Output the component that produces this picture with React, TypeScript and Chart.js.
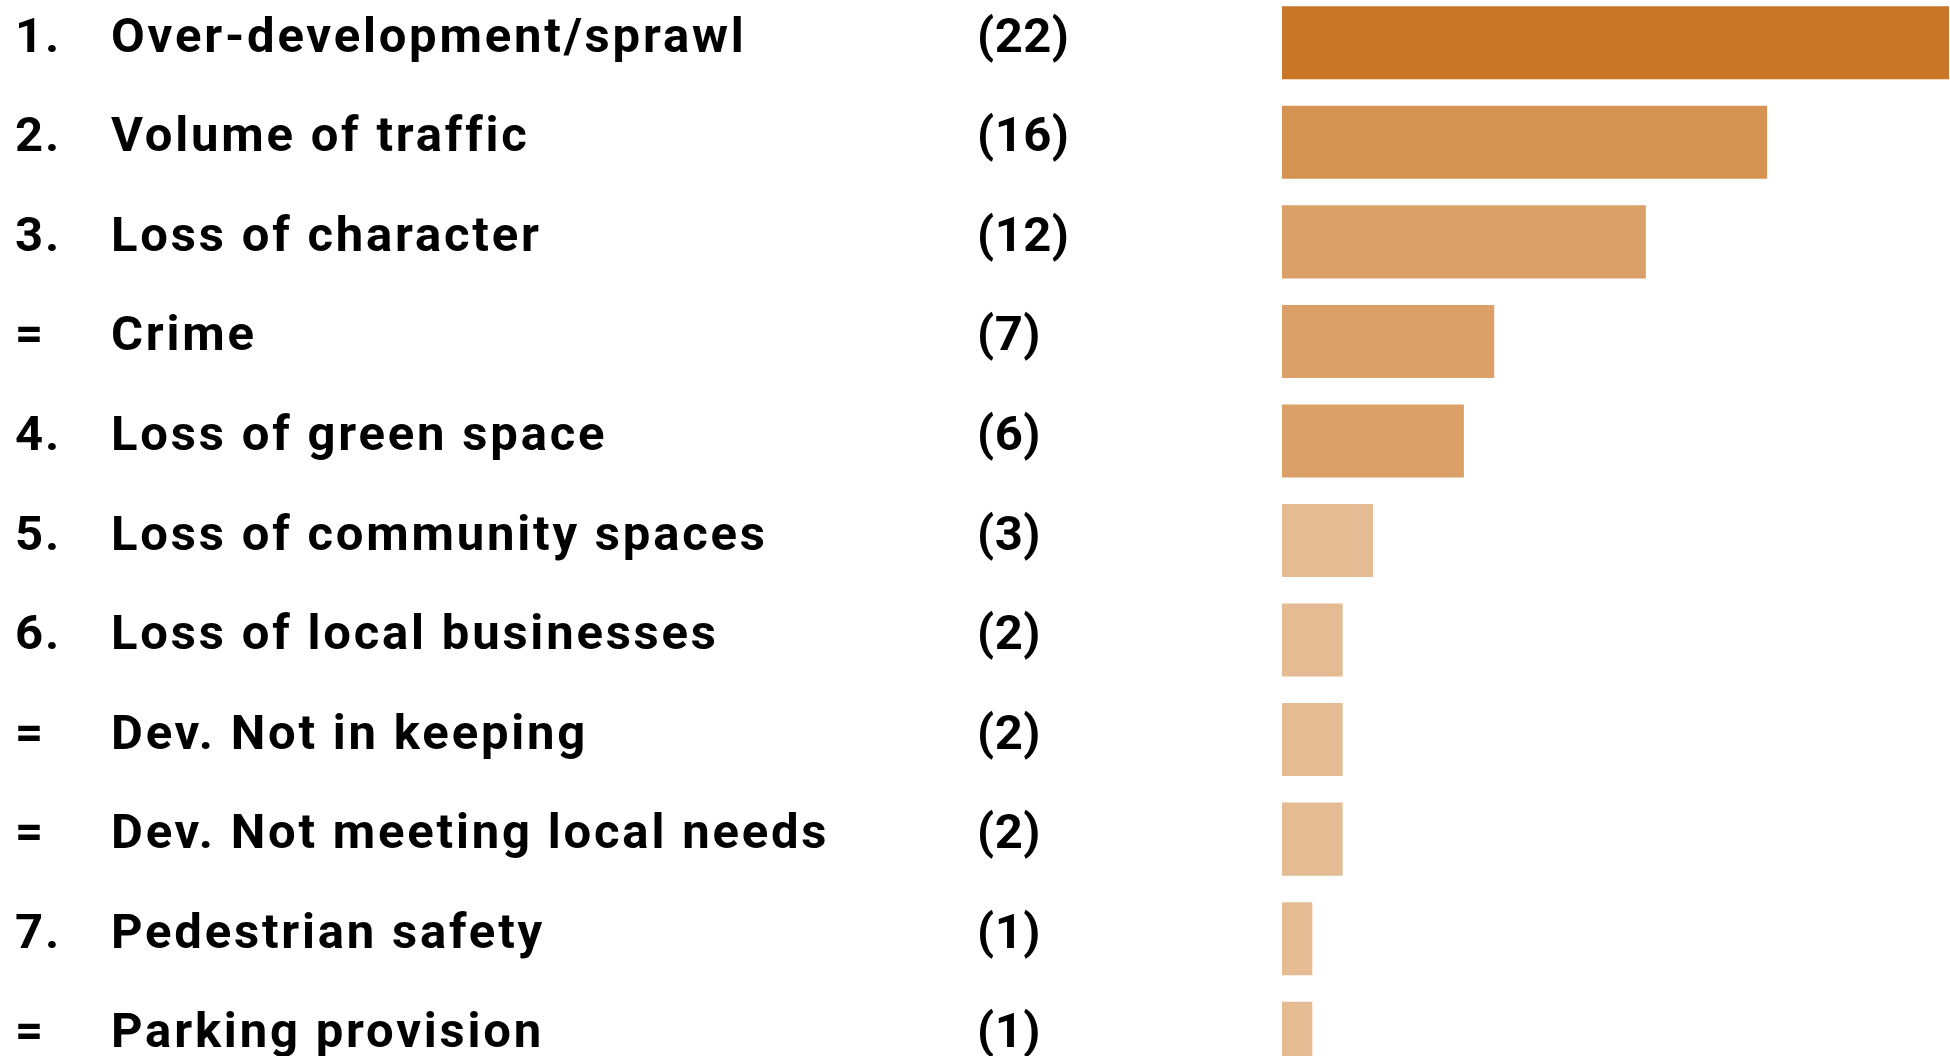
import React, { useEffect, useRef } from "react";
import { Chart, registerables } from "chart.js";

Chart.register(...registerables);

const ranks: string[] = ["1.", "2.", "3.", "=", "4.", "5.", "6.", "=", "=", "7.", "="];
const categories: string[] = [
  "Over-development/sprawl",
  "Volume of traffic",
  "Loss of character",
  "Crime",
  "Loss of green space",
  "Loss of community spaces",
  "Loss of local businesses",
  "Dev. Not in keeping",
  "Dev. Not meeting local needs",
  "Pedestrian safety",
  "Parking provision",
];
const counts: number[] = [22, 16, 12, 7, 6, 3, 2, 2, 2, 1, 1];
const barColors: string[] = [
  "#C97727",
  "#D49353",
  "#DBA068",
  "#DBA068",
  "#DBA068",
  "#E4BB92",
  "#E4BB92",
  "#E4BB92",
  "#E4BB92",
  "#E4BB92",
  "#E4BB92",
];

const FONT = "700 49px Roboto";
const RANK_X = 15;
const LABEL_X = 111;
const COUNT_X = 977;

const textColumns = {
  id: "textColumns",
  afterDatasetsDraw(chart: any) {
    const ctx = chart.ctx as CanvasRenderingContext2D;
    const yScale = chart.scales.y;
    ctx.save();
    ctx.font = FONT;
    ctx.fillStyle = "#000000";
    ctx.textAlign = "left";
    ctx.textBaseline = "alphabetic";
    categories.forEach((label, i) => {
      const y = yScale.getPixelForValue(i) + 9;
      (ctx as any).letterSpacing = "2px";
      ctx.fillText(ranks[i], RANK_X, y);
      (ctx as any).letterSpacing = "2.8px";
      ctx.fillText(label, LABEL_X, y);
      (ctx as any).letterSpacing = "0.5px";
      ctx.fillText(`(${counts[i]})`, COUNT_X, y);
    });
    ctx.restore();
  },
};

export default function App() {
  const canvasRef = useRef<HTMLCanvasElement | null>(null);

  useEffect(() => {
    if (!canvasRef.current) return;
    const chart = new Chart(canvasRef.current, {
      type: "bar",
      data: {
        labels: categories,
        datasets: [
          {
            data: counts,
            backgroundColor: barColors,
            borderWidth: 0,
            categoryPercentage: 1,
            barPercentage: 0.734,
          },
        ],
      },
      options: {
        indexAxis: "y",
        responsive: true,
        maintainAspectRatio: false,
        animation: false,
        layout: { padding: { left: 1282, right: 1, top: 0, bottom: 0 } },
        plugins: {
          legend: { display: false },
          tooltip: { enabled: false },
          title: { display: false },
        },
        scales: {
          x: { display: false, min: 0, max: 22, grid: { display: false } },
          y: { display: false, grid: { display: false } },
        },
      },
      plugins: [textColumns],
    });
    return () => chart.destroy();
  }, []);

  return (
    <div
      style={{
        position: "fixed",
        left: 0,
        top: 0,
        width: 1950,
        height: 1056,
        overflow: "hidden",
        background: "#ffffff",
      }}
    >
      <div style={{ position: "absolute", left: 0, top: -7, width: 1950, height: 1095 }}>
        <canvas ref={canvasRef} />
      </div>
    </div>
  );
}
